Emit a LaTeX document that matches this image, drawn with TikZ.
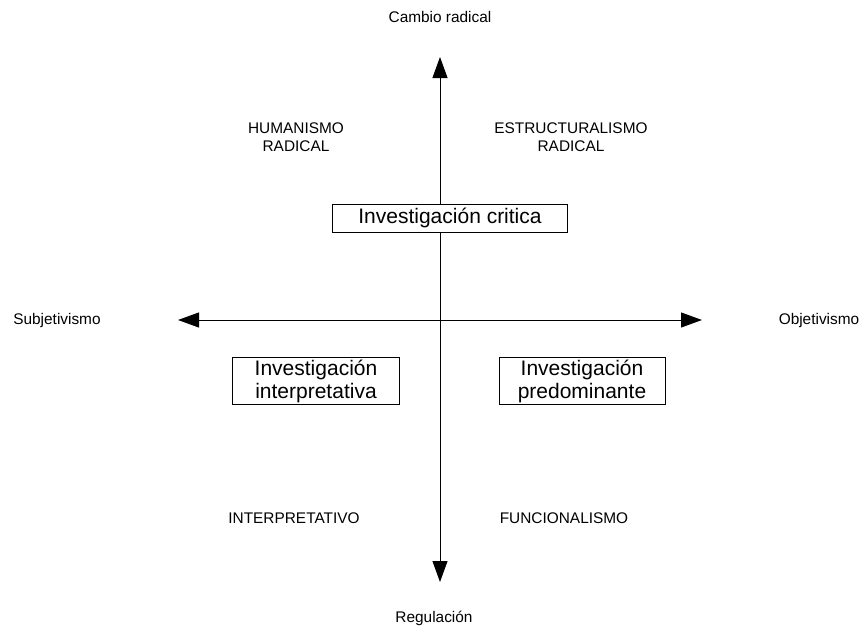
\documentclass[tikz,border=0pt]{standalone}
\usepackage{fontspec}
\setmainfont{Liberation Sans}
\usepackage{tikz}
\usetikzlibrary{arrows.meta, positioning}
\tikzset{
    box/.style={
        rectangle, draw=black, fill=white, line width=0.9pt,
        font=\fontsize{21}{23}\selectfont, align=center, inner sep=2pt
    },
    anno/.style={font=\fontsize{15.4}{18}\selectfont, align=center, inner sep=0pt},
    axis/.style={{Triangle[length=21pt, width=15pt]}-{Triangle[length=21pt, width=15pt]}, line width=0.9pt}
}

\begin{document}
\begin{tikzpicture}[x=1pt, y=-1pt]
    \useasboundingbox (0,0) rectangle (863,632);

    % Axis ends
    \coordinate (top) at (440,57);
    \coordinate (bottom) at (440,582);
    \coordinate (left) at (178,320);
    \coordinate (right) at (702,320);

    % Axes
    \draw[axis] (bottom) -- (top);
    \draw[axis] (left) -- (right);

    % Axis labels
    \node[anno] (radical) at (440,17) {Cambio radical};
    \node[anno] (regul) at (434,618) {Regulación};
    \node[anno] (subj) at (57,321) {Subjetivismo};
    \node[anno] (obj) at (819,321) {Objetivismo};

    % Quadrant labels
    \node[anno] (human) at (296,137) {HUMANISMO\\RADICAL};
    \node[anno] (struct) at (571,137) {ESTRUCTURALISMO\\RADICAL};
    \node[anno] (interp) at (294,518) {INTERPRETATIVO};
    \node[anno] (func) at (564,518) {FUNCIONALISMO};

    % Research boxes
    \node[box, minimum width=235pt, minimum height=28pt] (critica) at (450,218) {Investigación critica};
    \node[box, minimum width=167pt, minimum height=46pt] (interpretativa) at (316,381) {Investigación\\interpretativa};
    \node[box, minimum width=166pt, minimum height=46pt] (predominante) at (582,381) {Investigación\\predominante};

\end{tikzpicture}
\end{document}
